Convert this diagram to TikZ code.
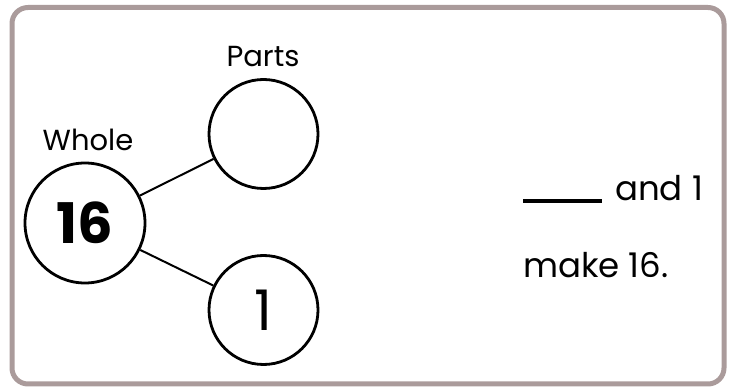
\documentclass[tikz,border=0pt]{standalone}
\usepackage{fontspec}
\setmainfont{Poppins}
\definecolor{frame}{RGB}{170,155,155}
\tikzset{
  circ/.style={circle, draw=black, line width=2.8pt, inner sep=0pt, minimum size=#1},
  lbl/.style={font=\fontsize{29}{32}\selectfont},
  rtxt/.style={font=\fontsize{34}{38}\selectfont, anchor=base west, inner sep=0pt},
  conn/.style={line width=2pt}
}
\begin{document}
\begin{tikzpicture}[x=1pt,y=-1pt]
\useasboundingbox (0,0) rectangle (734,387);
\draw[frame, line width=5pt, rounded corners=16pt] (12,7.5) rectangle (724,384);
\node[circ=120pt, font=\fontsize{56}{60}\selectfont\bfseries] (whole) at (85,223) {16};
\node[circ=109pt] (p1) at (263.5,134) {};
\node[circ=109pt, font=\fontsize{56}{60}\selectfont] (p2) at (263.5,310) {1};
\node[lbl] (wl) at (88,140) {Whole};
\node[lbl] (pl) at (263,57) {Parts};
\draw[conn] (whole) -- (p1);
\draw[conn] (whole) -- (p2);
\node[rtxt] (t1) at (523,201) {\rule[-2.5pt]{79pt}{4pt}\hspace{13pt}and 1};
\node[rtxt] (t2) at (523,278) {make 16.};
\end{tikzpicture}
\end{document}
